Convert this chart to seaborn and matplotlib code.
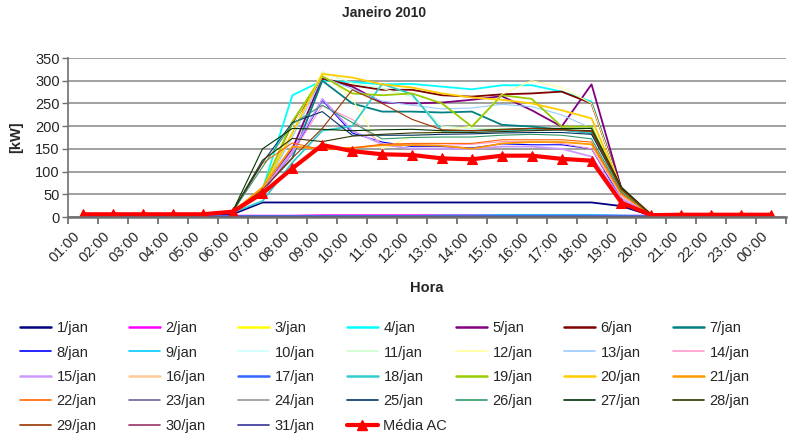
import numpy as np
import pandas as pd
import matplotlib
matplotlib.use("Agg")
import matplotlib.pyplot as plt
from matplotlib.lines import Line2D
import seaborn as sns

# Hour-of-day categories
horas = ["01:00", "02:00", "03:00", "04:00", "05:00", "06:00", "07:00", "08:00",
         "09:00", "10:00", "11:00", "12:00", "13:00", "14:00", "15:00", "16:00",
         "17:00", "18:00", "19:00", "20:00", "21:00", "22:00", "23:00", "00:00"]

# Hourly demand per day [kW]
jan01 = [4, 4, 4, 4, 4, 6, 32, 32, 32, 32, 32, 32, 32, 32, 32, 32, 32, 32, 24, 3, 3, 3, 3, 3]
jan02 = [3, 3, 3, 3, 3, 3, 3, 3, 4, 4, 4, 4, 4, 4, 4, 4, 4, 4, 3, 3, 3, 3, 3, 3]
jan03 = [3, 3, 3, 3, 3, 3, 3, 3, 3, 3, 3, 3, 3, 3, 3, 3, 3, 3, 3, 3, 3, 3, 3, 3]
jan04 = [6, 6, 6, 6, 6, 10, 60, 268, 300, 297, 292, 293, 287, 281, 290, 290, 276, 254, 60, 5, 5, 5, 5, 5]
jan05 = [6, 6, 6, 6, 6, 11, 58, 150, 305, 287, 252, 250, 252, 258, 266, 235, 199, 292, 62, 5, 5, 5, 5, 5]
jan06 = [6, 6, 6, 6, 6, 11, 58, 205, 305, 290, 280, 280, 268, 265, 270, 272, 276, 250, 62, 5, 5, 5, 5, 5]
jan07 = [6, 6, 6, 6, 6, 11, 60, 130, 300, 250, 232, 232, 230, 232, 203, 199, 192, 185, 60, 5, 5, 5, 5, 5]
jan08 = [6, 6, 6, 6, 6, 10, 55, 140, 257, 185, 165, 155, 155, 152, 161, 159, 159, 150, 40, 4, 5, 5, 5, 5]
jan09 = [3, 3, 3, 3, 3, 3, 3, 3, 3, 3, 3, 3, 4, 4, 5, 5, 5, 5, 4, 3, 3, 3, 3, 3]
jan10 = [3, 3, 3, 3, 3, 3, 3, 3, 3, 3, 3, 3, 3, 3, 3, 3, 3, 3, 3, 3, 3, 3, 3, 3]
jan11 = [6, 6, 6, 6, 6, 11, 60, 180, 320, 295, 283, 265, 200, 195, 195, 195, 195, 190, 58, 5, 5, 5, 5, 5]
jan12 = [6, 6, 6, 6, 6, 11, 60, 200, 318, 260, 150, 178, 190, 200, 270, 300, 285, 250, 60, 5, 5, 5, 5, 5]
jan13 = [6, 6, 6, 6, 6, 11, 58, 175, 308, 282, 255, 246, 238, 240, 248, 243, 225, 195, 58, 5, 5, 5, 5, 5]
jan14 = [6, 6, 6, 6, 6, 10, 58, 140, 245, 215, 160, 160, 158, 160, 166, 166, 162, 150, 45, 4, 5, 5, 5, 5]
jan15 = [6, 6, 6, 6, 6, 10, 58, 145, 260, 190, 160, 150, 150, 150, 155, 155, 150, 133, 40, 4, 5, 5, 5, 5]
jan16 = [3, 3, 3, 3, 3, 3, 3, 3, 3, 3, 3, 3, 3, 3, 3, 3, 3, 3, 3, 3, 3, 3, 3, 3]
jan17 = [3, 3, 3, 3, 3, 3, 3, 3, 3, 3, 3, 3, 3, 3, 3, 3, 3, 3, 3, 3, 3, 3, 3, 3]
jan18 = [6, 6, 6, 6, 6, 10, 35, 120, 190, 200, 293, 270, 190, 190, 190, 192, 192, 186, 58, 5, 5, 5, 5, 5]
jan19 = [6, 6, 6, 6, 6, 11, 62, 210, 310, 272, 268, 272, 250, 199, 268, 260, 199, 199, 60, 5, 5, 5, 5, 5]
jan20 = [6, 6, 6, 6, 6, 11, 62, 185, 315, 307, 292, 285, 272, 263, 258, 250, 235, 217, 62, 5, 5, 5, 5, 5]
jan21 = [6, 6, 6, 6, 6, 11, 65, 155, 150, 152, 158, 158, 157, 150, 162, 165, 165, 160, 50, 5, 5, 5, 5, 5]
jan22 = [6, 6, 6, 6, 6, 11, 118, 163, 148, 152, 160, 162, 162, 162, 170, 170, 170, 165, 52, 5, 5, 5, 5, 5]
jan23 = [3, 3, 3, 3, 3, 3, 3, 3, 3, 3, 3, 3, 3, 3, 3, 3, 3, 3, 3, 3, 3, 3, 3, 3]
jan24 = [3, 3, 3, 3, 3, 3, 3, 3, 3, 3, 3, 3, 3, 3, 3, 3, 3, 3, 3, 3, 3, 3, 3, 3]
jan25 = [6, 6, 6, 6, 6, 11, 120, 208, 232, 180, 180, 180, 182, 183, 185, 186, 186, 182, 62, 5, 5, 5, 5, 5]
jan26 = [6, 6, 6, 6, 6, 11, 110, 205, 246, 208, 172, 175, 176, 176, 180, 182, 180, 172, 55, 5, 5, 5, 5, 5]
jan27 = [6, 6, 6, 6, 6, 12, 150, 195, 193, 190, 192, 193, 190, 190, 193, 195, 195, 195, 66, 5, 5, 5, 5, 5]
jan28 = [6, 6, 6, 6, 6, 12, 125, 173, 166, 178, 182, 185, 186, 186, 188, 190, 192, 190, 63, 5, 5, 5, 5, 5]
jan29 = [6, 6, 6, 6, 6, 11, 60, 130, 195, 280, 250, 215, 192, 190, 192, 195, 192, 188, 60, 5, 5, 5, 5, 5]
jan30 = [3, 3, 3, 3, 3, 3, 3, 3, 3, 3, 3, 3, 3, 3, 3, 3, 3, 3, 3, 3, 3, 3, 3, 3]
jan31 = [2, 2, 2, 2, 2, 2, 2, 2, 2, 2, 2, 2, 2, 2, 2, 2, 2, 2, 2, 2, 2, 2, 2, 2]

# Monthly average profile
media_ac = [6, 6, 6, 6, 6, 11.7, 52, 107, 158.5, 145, 138, 136.5, 129, 127, 135, 135,
            128, 124, 31.5, 4, 5, 5, 5, 5]

dias = [jan01, jan02, jan03, jan04, jan05, jan06, jan07, jan08, jan09, jan10, jan11,
        jan12, jan13, jan14, jan15, jan16, jan17, jan18, jan19, jan20, jan21, jan22,
        jan23, jan24, jan25, jan26, jan27, jan28, jan29, jan30, jan31]
rotulos = [f"{d}/jan" for d in range(1, 32)]

cores = ["#000080", "#FF00FF", "#FFFF00", "#00FFFF", "#800080", "#800000", "#008080",
         "#0000FF", "#00CCFF", "#CCFFFF", "#CCFFCC", "#FFFF99", "#99CCFF", "#FF99CC",
         "#CC99FF", "#FFCC99", "#3366FF", "#33CCCC", "#99CC00", "#FFCC00", "#FF9900",
         "#FF6600", "#666699", "#969696", "#003366", "#339966", "#003300", "#333300",
         "#993300", "#993366", "#333399"]
grossos = set(range(0, 7)) | set(range(14, 21))

sns.set_theme(style="white")
plt.rcParams["font.family"] = ["Liberation Sans", "DejaVu Sans"]

fig = plt.figure(figsize=(7.88, 4.37), dpi=100)
ax = fig.add_axes([68 / 788, 1 - 217 / 437, 718 / 788, 159 / 437])

pos = np.arange(len(horas))
handles = []
for i, (vals, nome, cor) in enumerate(zip(dias, rotulos, cores)):
    grosso = i in grossos
    lw = 1.3 if grosso else 0.8
    df = pd.DataFrame({"pos": pos, "kW": vals})
    sns.lineplot(data=df, x="pos", y="kW", color=cor, linewidth=lw, ax=ax,
                 legend=False, zorder=3)
    handles.append(Line2D([], [], color=cor, lw=1.8 if grosso else 1.2, label=nome))

dfm = pd.DataFrame({"pos": pos, "kW": media_ac})
sns.lineplot(data=dfm, x="pos", y="kW", color="#FF0000", linewidth=3.0, marker="^",
             markersize=7, markeredgecolor="#FF0000", ax=ax, legend=False, zorder=5)
handles.append(Line2D([], [], color="#FF0000", lw=3.0, marker="^", markersize=7,
                      label="Média AC"))

ax.set_xlim(-0.5, len(horas) - 0.5)
ax.set_ylim(0, 350)
ax.set_yticks(np.arange(0, 351, 50))
ax.set_xticks(pos)
ax.set_xticklabels(horas, rotation=45, ha="right", va="top", fontsize=10.5)
ax.set_xticks(np.arange(-0.5, len(horas), 1), minor=True)
ax.tick_params(axis="x", which="major", length=0, pad=9)
ax.tick_params(axis="x", which="minor", length=5, width=1.3, color="#707070",
               direction="out", bottom=True)
ax.tick_params(axis="y", which="major", length=4, width=1.0, color="#707070",
               direction="out", left=True, labelsize=10.5, pad=2)
ax.yaxis.grid(True, color="#a0a0a0", linewidth=1.4)
ax.xaxis.grid(False)
for s in ["top", "right"]:
    ax.spines[s].set_visible(False)
ax.spines["left"].set_color("#707070")
ax.spines["left"].set_linewidth(1.2)
ax.spines["bottom"].set_color("#707070")
ax.spines["bottom"].set_linewidth(1.8)
ax.spines["bottom"].set_zorder(6)

ax.set_xlabel("Hora", fontsize=10.5, fontweight="bold")
ax.xaxis.set_label_coords(0.5, -0.40)
ax.set_ylabel("[kW]", fontsize=10.5, fontweight="bold")
ax.yaxis.set_label_coords(-0.062, 0.5)

fig.suptitle("Janeiro 2010", x=0.488, y=1 - 6 / 437, va="top", fontsize=10,
             fontweight="bold")

# Legend: 7 columns filled row by row
ncol = 7
col_x = [20, 129, 238, 347, 456, 564, 673]
for c in range(ncol):
    col_handles = handles[c::ncol]
    fig.legend(handles=col_handles, loc="upper left",
               bbox_to_anchor=(col_x[c] / 788, 1 - 321 / 437),
               frameon=False, fontsize=10.5, handlelength=2.1, handletextpad=0.4,
               labelspacing=0.72, borderpad=0, borderaxespad=0)

fig.savefig("out.png", dpi=100)
